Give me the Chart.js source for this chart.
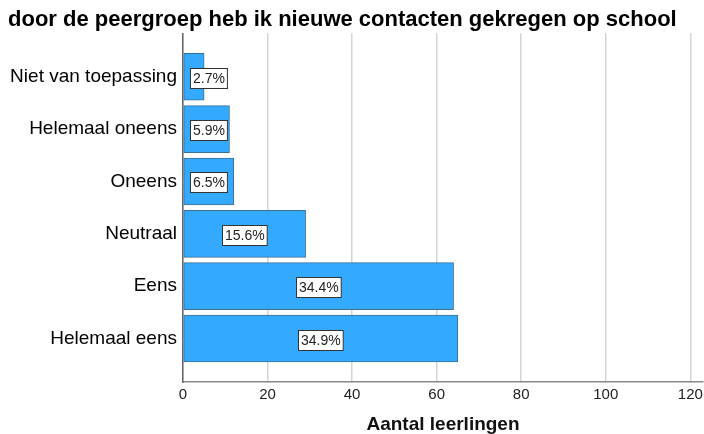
<!DOCTYPE html>
<html>
<head>
<meta charset="utf-8">
<script src="https://cdn.jsdelivr.net/npm/chart.js@4.4.1/dist/chart.umd.min.js"></script>
<style>
  html, body { margin: 0; padding: 0; background: #fff; }
  #wrap { width: 704px; height: 434px; }
</style>
</head>
<body>
<div id="wrap"><canvas id="chart"></canvas></div>
<script>
// values
const categories = ['Niet van toepassing', 'Helemaal oneens', 'Oneens', 'Neutraal', 'Eens', 'Helemaal eens'];
const counts = [5, 11, 12, 29, 64, 65];
const pctLabels = ['2.7%', '5.9%', '6.5%', '15.6%', '34.4%', '34.9%'];
const xTicks = [0, 20, 40, 60, 80, 100, 120];

const FONT = "'Liberation Sans', Arial, Helvetica, sans-serif";

// white boxed percentage labels inside each bar
const boxLabels = {
    id: 'boxLabels',
    afterDatasetsDraw(chart) {
        const ctx = chart.ctx;
        const meta = chart.getDatasetMeta(0);
        ctx.save();
        ctx.font = '14px ' + FONT;
        ctx.textAlign = 'center';
        ctx.textBaseline = 'middle';
        meta.data.forEach((bar, i) => {
            const text = pctLabels[i];
            const w = ctx.measureText(text).width + 5;
            const h = 20;
            let cx = (bar.x + bar.base) / 2;
            cx = Math.max(cx, bar.base + 6 + w / 2);
            const x0 = Math.round(cx - w / 2) + 0.5;
            const y0 = Math.round(bar.y - h / 2 + 1) + 0.5;
            ctx.fillStyle = '#fff';
            ctx.fillRect(x0, y0, w, h);
            ctx.strokeStyle = '#333';
            ctx.lineWidth = 1;
            ctx.strokeRect(x0, y0, w, h);
            ctx.fillStyle = '#222';
            ctx.fillText(text, x0 + w / 2, y0 + h / 2 + 0.5);
        });
        ctx.restore();
    }
};

const ctx = document.getElementById('chart').getContext('2d');

new Chart(ctx, {
    type: 'bar',
    data: {
        datasets: [{
            data: counts.map((c, i) => ({ x: c, y: i })),
            backgroundColor: '#33aaff',
            borderColor: '#3d6f96',
            borderWidth: 1,
            borderSkipped: false,
            barThickness: 47
        }]
    },
    options: {
        indexAxis: 'y',
        responsive: true,
        maintainAspectRatio: false,
        animation: false,
        layout: {
            padding: { left: 8, right: 1, top: 0, bottom: 0 }
        },
        plugins: {
            legend: { display: false },
            tooltip: { enabled: false },
            title: {
                display: true,
                text: 'door de peergroep heb ik nieuwe contacten gekregen op school',
                align: 'start',
                color: '#000',
                font: { family: FONT, size: 22, weight: 'bold', lineHeight: 1.15 },
                padding: { top: 7, bottom: 1 }
            }
        },
        scales: {
            x: {
                type: 'linear',
                min: 0,
                max: 123,
                afterBuildTicks: function(scale) {
                    scale.ticks = xTicks.map(v => ({ value: v }));
                },
                afterFit: function(scale) {
                    scale.height = 52;
                    scale.paddingLeft = 0;
                    scale.paddingRight = 0;
                },
                grid: {
                    color: '#d4d4d4',
                    lineWidth: 1.5,
                    drawTicks: false
                },
                border: { display: true, color: '#888', width: 1.5 },
                ticks: {
                    padding: 4,
                    color: '#222',
                    font: { family: FONT, size: 15 }
                },
                title: {
                    display: true,
                    text: 'Aantal leerlingen',
                    color: '#111',
                    font: { family: FONT, size: 19, weight: 'bold', lineHeight: 1.0 },
                    padding: { top: 0, bottom: 0 }
                }
            },
            y: {
                type: 'linear',
                reverse: true,
                offset: false,
                min: -0.83,
                max: 5.83,
                afterBuildTicks: function(scale) {
                    scale.ticks = categories.map((c, i) => ({ value: i }));
                },
                afterFit: function(scale) {
                    scale.width = 175;
                },
                grid: { display: false, drawTicks: false, offset: false },
                border: { display: true, color: '#666', width: 1.5 },
                ticks: {
                    padding: 6,
                    color: '#000',
                    font: { family: FONT, size: 19 },
                    callback: function(value) {
                        return categories[value];
                    }
                }
            }
        }
    },
    plugins: [boxLabels]
});
</script>
</body>
</html>
